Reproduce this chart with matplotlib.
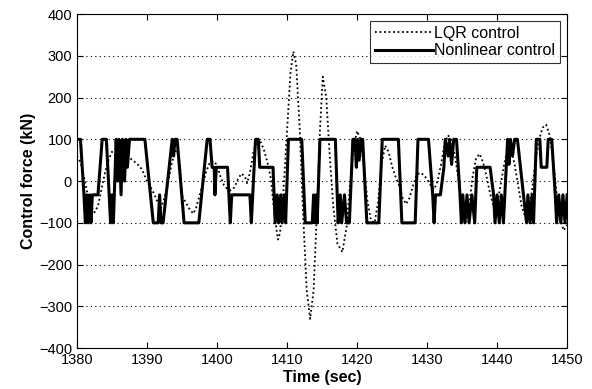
import matplotlib
matplotlib.use("Agg")
import matplotlib.pyplot as plt

plt.rcParams['font.family'] = ['Liberation Sans', 'DejaVu Sans']

# Nonlinear control (kN): time vertices and values
nl_t = [1380.0, 1380.5, 1381.0, 1381.2, 1381.4, 1381.6, 1381.8, 1382.0, 1382.2, 1383.0,
        1383.6, 1384.2, 1384.6, 1384.8, 1385.0, 1385.2, 1385.6, 1385.8, 1386.0, 1386.3,
        1386.5, 1386.8, 1387.0, 1387.2, 1387.5, 1389.7, 1390.9, 1391.6, 1391.8, 1392.0,
        1392.3, 1393.6, 1393.8, 1394.0, 1394.3, 1395.3, 1397.4, 1398.6, 1399.0, 1399.3,
        1399.6, 1399.7, 1399.9, 1400.0, 1401.5, 1401.7, 1401.9, 1402.1, 1404.7, 1404.9,
        1405.1, 1405.5, 1405.9, 1406.1, 1408.0, 1408.3, 1408.6, 1408.8, 1409.1, 1409.3,
        1409.6, 1409.8, 1410.2, 1412.1, 1412.6, 1413.6, 1413.8, 1414.0, 1414.2, 1414.3,
        1414.7, 1416.9, 1417.3, 1417.6, 1417.8, 1418.2, 1418.5, 1418.9, 1419.4, 1419.7,
        1419.9, 1420.1, 1420.3, 1420.6, 1420.8, 1421.4, 1423.1, 1423.6, 1425.9, 1426.4,
        1428.3, 1428.7, 1430.2, 1430.8, 1431.0, 1431.2, 1431.9, 1432.4, 1432.6, 1433.0,
        1433.2, 1433.5, 1433.8, 1434.2, 1434.7, 1434.9, 1435.1, 1435.4, 1435.7, 1436.0,
        1436.4, 1436.8, 1437.1, 1439.0, 1439.5, 1439.7, 1440.0, 1440.3, 1440.6, 1440.9,
        1441.5, 1441.7, 1441.9, 1442.2, 1442.5, 1442.9, 1444.2, 1444.4, 1444.7, 1445.0,
        1445.2, 1445.6, 1446.1, 1446.3, 1447.1, 1447.3, 1447.8, 1448.3, 1448.5, 1448.8,
        1449.1, 1449.4, 1449.7, 1450.0]
nl_v = [100, 100, -33, -100, -33, -100, -33, -100, -33, -33,
        100, 100, -33, -100, -33, -100, 100, 0, 100, -33,
        100, 0, 100, 33, 100, 100, -100, -100, -33, -100,
        -100, 100, 60, 100, 100, -100, -100, 100, 100, 33,
        33, -33, 33, 33, 33, -33, -100, -33, -33, -100,
        -33, 100, 100, 33, 33, -100, -33, -100, -33, -100,
        -33, -100, 100, 100, -100, -100, -33, -100, -33, -100,
        100, 100, -100, -33, -100, -33, -100, -100, 100, 100,
        33, 100, 50, 100, 100, -100, -100, 100, 100, -100,
        -100, 100, 100, -33, -100, -33, -33, 33, 100, 60,
        100, 40, 100, 100, -33, -100, -33, -100, -33, -100,
        -33, -100, 33, 33, -33, -100, -33, -100, -33, -100,
        100, 40, 100, 60, 100, 100, -100, -33, -100, -33,
        -100, 100, 100, 33, 33, 100, 100, -33, -100, -33,
        -100, -33, -100, -33]

# LQR control (kN)
lqr_t = [1380.0, 1380.5, 1381.0, 1381.5, 1382.0, 1382.5, 1383.0, 1383.5, 1384.0, 1384.5,
         1385.0, 1385.5, 1386.0, 1386.5, 1387.0, 1387.5, 1388.0, 1388.5, 1389.0, 1389.5,
         1390.0, 1390.5, 1391.0, 1391.5, 1392.0, 1392.5, 1393.0, 1393.5, 1394.0, 1394.3,
         1394.7, 1395.0, 1395.5, 1396.0, 1396.6, 1397.0, 1397.5, 1398.0, 1398.5, 1399.0,
         1399.5, 1400.0, 1400.5, 1401.0, 1401.5, 1402.0, 1402.5, 1403.0, 1403.5, 1404.0,
         1404.3, 1404.7, 1405.2, 1405.7, 1406.2, 1406.7, 1407.2, 1407.7, 1408.2, 1408.7,
         1409.0, 1409.5, 1410.0, 1410.5, 1410.9, 1411.3, 1411.8, 1412.3, 1412.8, 1413.3,
         1413.8, 1414.3, 1414.7, 1415.1, 1415.6, 1416.1, 1416.6, 1417.2, 1417.9, 1418.5,
         1419.0, 1419.5, 1420.0, 1420.5, 1421.0, 1421.5, 1422.0, 1422.5, 1423.0, 1423.5,
         1424.0, 1424.5, 1425.0, 1425.5, 1426.0, 1426.5, 1427.0, 1427.5, 1428.0, 1428.5,
         1429.0, 1429.5, 1430.0, 1430.5, 1431.0, 1431.5, 1432.0, 1432.5, 1433.0, 1433.5,
         1434.0, 1434.5, 1435.0, 1435.5, 1436.0, 1436.5, 1437.0, 1437.5, 1438.0, 1438.5,
         1439.0, 1439.5, 1440.0, 1440.5, 1441.0, 1441.5, 1442.0, 1442.5, 1443.0, 1443.5,
         1444.0, 1444.5, 1445.0, 1445.5, 1446.0, 1446.5, 1447.0, 1447.5, 1448.0, 1448.5,
         1449.0, 1449.5, 1450.0]
lqr_v = [60, 45, 10, -30, -60, -75, -60, -20, 20, 50,
         70, 75, 72, 68, 62, 55, 50, 42, 35, 20,
         0, -15, -30, -50, -65, -40, -5, 40, 70, 75,
         40, -35, -50, -65, -78, -65, -35, -5, 25, 45,
         48, 38, 10, -10, -20, -22, -15, 5, 18, 10,
         -5, 20, 70, 98, 95, 75, 45, 5, -80, -140,
         -125, -20, 120, 260, 310, 280, 130, -80, -260, -330,
         -260, -60, 120, 250, 200, 60, -60, -150, -170, -110,
         -10, 80, 120, 100, 30, -50, -95, -100, -50, 40,
         85, 70, 35, 10, -10, -40, -55, -40, -10, 15,
         20, 15, 5, -10, -20, 0, 40, 90, 110, 95,
         60, 0, -70, -100, -60, 10, 55, 65, 45, 10,
         -30, -60, -55, -10, 40, 75, 75, 40, -10, -60,
         -85, -75, -20, 50, 100, 128, 135, 110, 50, -30,
         -90, -118, -105]

x_ticks = [1380, 1390, 1400, 1410, 1420, 1430, 1440, 1450]
y_ticks = [-400, -300, -200, -100, 0, 100, 200, 300, 400]

fig = plt.figure(figsize=(5.92, 3.89), dpi=100)
ax = fig.add_axes([0.130, 0.105, 0.828, 0.859])

ax.plot(lqr_t, lqr_v, color='black', linestyle=(0, (1, 1.5)), linewidth=1.3,
        label='LQR control')
ax.plot(nl_t, nl_v, color='black', linestyle='-', linewidth=2.2,
        label='Nonlinear control')

ax.set_xlim(1380, 1450)
ax.set_ylim(-400, 400)
ax.set_xticks(x_ticks)
ax.set_yticks(y_ticks)
ax.yaxis.grid(True, color='black', linestyle=(0, (1, 3)), linewidth=0.8)
ax.tick_params(direction='in', top=True, right=True, labelsize=10.5, length=4)
for s in ax.spines.values():
    s.set_linewidth(0.8)

ax.set_xlabel('Time (sec)', fontsize=11.5, fontweight='bold', labelpad=2)
ax.set_ylabel('Control force (kN)', fontsize=11.5, fontweight='bold', labelpad=2)

leg = ax.legend(loc='upper right', fontsize=11.5, frameon=True, fancybox=False,
                edgecolor='black', handlelength=3.6, handletextpad=0.1,
                borderpad=0.3, labelspacing=0.15, borderaxespad=0.45)
leg.get_frame().set_linewidth(0.8)

fig.savefig('out.png', dpi=100)
